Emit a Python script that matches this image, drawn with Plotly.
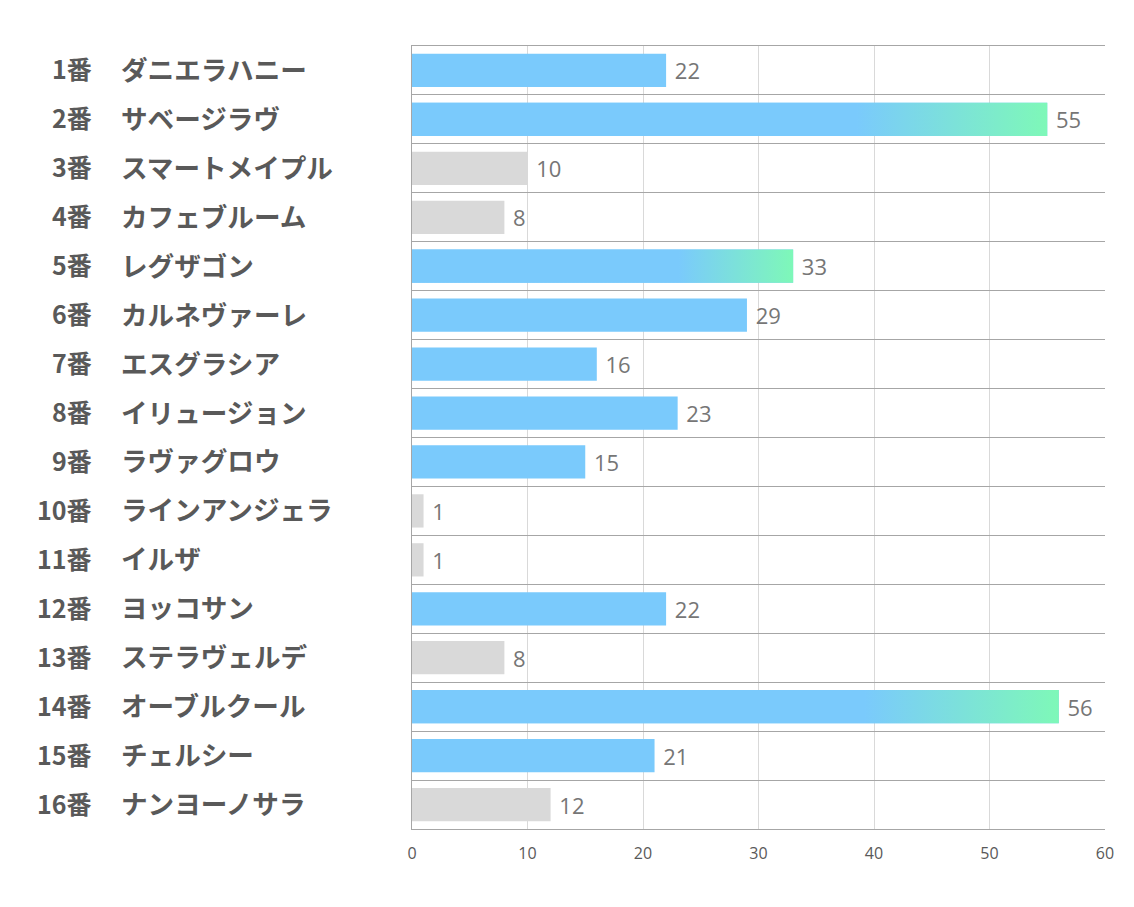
import plotly.graph_objects as go

numbers = ["1番", "2番", "3番", "4番", "5番", "6番", "7番", "8番",
           "9番", "10番", "11番", "12番", "13番", "14番", "15番", "16番"]
names = ["ダニエラハニー", "サベージラヴ", "スマートメイプル", "カフェブルーム",
         "レグザゴン", "カルネヴァーレ", "エスグラシア", "イリュージョン",
         "ラヴァグロウ", "ラインアンジェラ", "イルザ", "ヨッコサン",
         "ステラヴェルデ", "オーブルクール", "チェルシー", "ナンヨーノサラ"]
values = [22, 55, 10, 8, 33, 29, 16, 23, 15, 1, 1, 22, 8, 56, 21, 12]
kind = ["blue", "grad", "gray", "gray", "grad", "blue", "blue", "blue",
        "blue", "gray", "gray", "blue", "gray", "grad", "blue", "gray"]

BLUE = "rgb(122,202,252)"
GREEN = "rgb(126,248,184)"
GRAY = "rgb(217,217,217)"
BW = 0.68

pos = list(range(len(values)))
colors = [GRAY if k == "gray" else BLUE for k in kind]

fig = go.Figure()
fig.add_trace(go.Bar(
    x=values, y=pos, orientation="h", width=BW,
    marker=dict(color=colors, line=dict(width=0)),
    text=[" " + str(v) for v in values], textposition="outside",
    textfont=dict(size=22, color="rgb(118,118,118)", family="Open Sans"),
    cliponaxis=False, showlegend=False, hoverinfo="skip",
))

# gradient overlays for highlighted bars
for i, (v, k) in enumerate(zip(values, kind)):
    if k != "grad":
        continue
    fig.add_trace(go.Scatter(
        x=[0, v, v, 0, 0],
        y=[i - BW / 2, i - BW / 2, i + BW / 2, i + BW / 2, i - BW / 2],
        mode="lines", line=dict(width=0), fill="toself",
        fillgradient=dict(type="horizontal",
                          colorscale=[[0, BLUE], [0.7, BLUE], [1, GREEN]]),
        showlegend=False, hoverinfo="skip",
    ))

W, H = 1134, 907
L, R, T, B = 412, 29, 46, 78
pw = W - L - R
for i, (n, nm) in enumerate(zip(numbers, names)):
    fig.add_annotation(x=(94 - L) / pw, xref="paper", y=i, yref="y", yshift=2,
                       text=f"<b>{n}</b>", showarrow=False, xanchor="right",
                       font=dict(size=25, color="rgb(89,89,89)", family="Noto Sans CJK JP"))
    fig.add_annotation(x=(119 - L) / pw, xref="paper", y=i, yref="y", yshift=2,
                       text=f"<b>{nm}</b>", showarrow=False, xanchor="left",
                       font=dict(size=26.6, color="rgb(89,89,89)", family="Noto Sans CJK JP"))

fig.update_layout(
    width=W, height=H,
    margin=dict(l=L, r=R, t=T, b=B),
    plot_bgcolor="white", paper_bgcolor="white",
    xaxis=dict(range=[0, 60], dtick=10, tick0=0, showgrid=True,
               gridcolor="rgb(217,217,217)", gridwidth=1, zeroline=False,
               showline=True, mirror=True, linecolor="rgb(166,166,166)", linewidth=1,
               tickfont=dict(size=16, color="rgb(89,89,89)", family="Open Sans"),
               ticks="", ticklabelstandoff=10, fixedrange=True),
    yaxis=dict(range=[len(values) - 0.5, -0.5],
               tickvals=[i - 0.5 for i in range(len(values) + 1)],
               showticklabels=False, showgrid=True, gridcolor="rgb(166,166,166)",
               gridwidth=1, zeroline=False, showline=True, mirror=False,
               linecolor="rgb(166,166,166)", linewidth=1, ticks="", fixedrange=True),
    bargap=0.3,
)

fig.write_html("out.html")
